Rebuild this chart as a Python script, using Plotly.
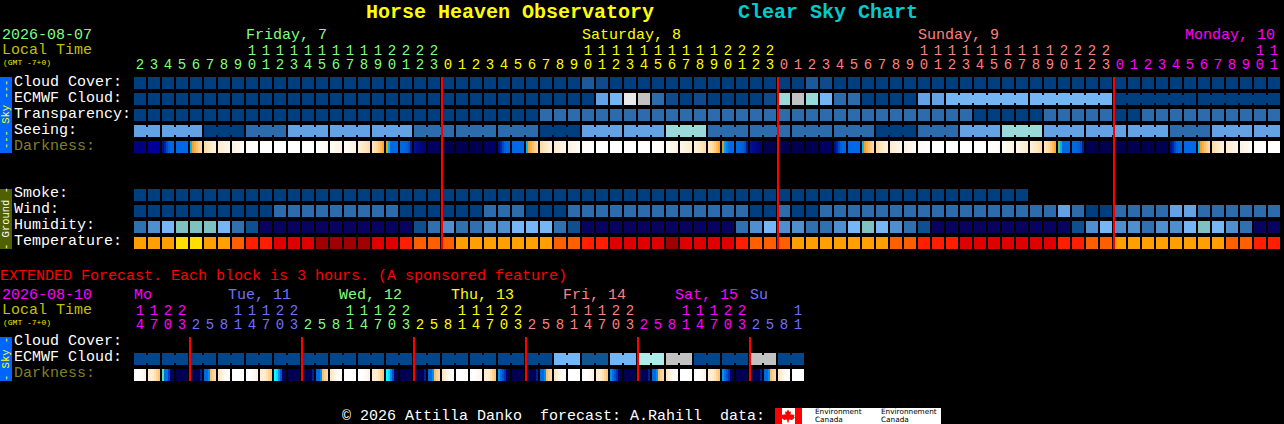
import plotly.graph_objects as go

# ---------- data ----------
W, H = 1284, 424

cloud_cover = ("aaaaaaaaaa aaaaaaaaaa aaaaaaaaaa aabcaaaaaa aaaaaaaabc "
               "aaaaaaaaaa aaaaaaaaaa aaaaaaaaaa aa").replace(" ", "")
ecmwf_cloud = ("aaaaaaaaaa aaaaaaaaaa aaaaaaaaaa aaaLdwgmca caaaactgtd "
               "mmaaaaLLdd dddddddddd aaaaaaaaaa aa").replace(" ", "")
transparency = ("aaaaaaaaaa aaaaaaaaaa aaaaaaaaam mmmmmmmmmm mmmmmmmmmm "
                "mmmmmmmmmm aaaaammmmm aammmmmmmm mm").replace(" ", "")
seeing = ("LLLLLaaamm mLLLLLLLLL mmmmmmmmma aaLLLLLLtt tmmmmmmmmm "
          "mmmaaammmL LLtttLLLLL LLLLmmmLLL LL").replace(" ", "")
smoke = ("aaaaaaaaaa aaaaaaaaaa aaaaaaaaaa aaaaaaaaaa aaaaaaaaaa "
         "aaaaaaaaaa aaaa").replace(" ", "")
wind = ("aaaaaaaaaa mmmmmmmmma aaaaammmaa ammmmmmmmm mmmmaamaam "
        "mmmmmmmmmm mmmmmmLmaa mmmmLLmmmm mm").replace(" ", "")
humidity = ("MHDTTTDMBN NNNNNNNNNN BMHMMHHDDD MBNNNNNNNN NNNMHDHHMM "
            "HDTDHMBNNN NNNNNNNBHD HHMHHDTDHM NN").replace(" ", "")
temperature = ("OOOYYOOFRR EEEKKKKEER FFFOOOOOOO FFRREEEEKE EEERFFFOOO "
               "OOOOFFRRRE EEEEEERRFF OOOOOOOOFF RR").replace(" ", "")

ext_ecmwf = ("aaaaaaaaaa aaaaaaaaaa aaaaaaaaaa ddccddiigg "
             "aaaagg aa").replace(" ", "")

darkness = ["n8", "n9", "up", "bl", "dawn", "m1", "m2", "m3", "m4", "W",
            "W", "W", "W", "e4", "e3", "e3", "e1", "dusk", "tw", "fall",
            "nf", "n6", "n", "n", "n", "n6", "up", "bl", "dawn", "m1",
            "m2", "m3", "m4", "W", "W", "W", "W", "e4", "e3", "e2",
            "e1", "dusk", "tw2", "fall", "nf", "n", "n", "n", "n", "n6",
            "up", "bl", "dawn", "m1", "m2", "m3", "m4", "W", "W", "W",
            "W", "e4", "e3", "e2", "e1", "dusk", "tw3", "fall", "n", "n",
            "n", "n", "n", "n", "up", "bl", "dawn", "m1", "m2", "m3",
            "m4", "W"]
ext_darkness = ["x0", "x1", "xd1", "xn", "xu", "xdw", "x6", "W",
                "x0", "x1", "xd2", "xn", "xu", "xdw", "x6", "W",
                "x0", "x1", "xd2", "xn", "xu", "xdw", "x6", "W",
                "x0", "x1", "xd3", "xn", "xu", "xdw", "x6", "W",
                "x0", "x1", "xd3", "xn", "xu", "xdw", "x6", "W",
                "x0", "x1", "xd3", "xn", "xu", "xdw", "x6", "W"]

hours = [2, 3, 4, 5, 6, 7, 8, 9, 10, 11, 12, 13, 14, 15, 16, 17, 18, 19, 20, 21, 22, 23,
         0, 1, 2, 3, 4, 5, 6, 7, 8, 9, 10, 11, 12, 13, 14, 15, 16, 17, 18, 19, 20, 21, 22, 23,
         0, 1, 2, 3, 4, 5, 6, 7, 8, 9, 10, 11, 12, 13, 14, 15, 16, 17, 18, 19, 20, 21, 22, 23,
         0, 1, 2, 3, 4, 5, 6, 7, 8, 9, 10, 11]
hour_day = ["F"] * 22 + ["S"] * 24 + ["U"] * 24 + ["M"] * 12
ext_hours = [14, 17, 20, 23,
             2, 5, 8, 11, 14, 17, 20, 23,
             2, 5, 8, 11, 14, 17, 20, 23,
             2, 5, 8, 11, 14, 17, 20, 23,
             2, 5, 8, 11, 14, 17, 20, 23,
             2, 5, 8, 11, 14, 17, 20, 23,
             2, 5, 8, 11]
ext_day = ["M"] * 4 + ["T"] * 8 + ["F"] * 8 + ["S"] * 8 + ["U"] * 8 + ["M"] * 8 + ["T"] * 4
midnights = [22, 46, 70]
ext_midnights = [4, 12, 20, 28, 36, 44]
seeing_groups = [0] + list(range(2, 82, 3))   # first column of each joined run
ecmwf_groups = [58, 64, 70, 76]
ext_groups = list(range(0, 48, 2))

# ---------- styles ----------
CELL = {"a": "#003f7f", "b": "#1a5a9c", "c": "#0f4b8c", "m": "#2c6cac", "L": "#63a3e5",
        "d": "#74b5f3", "w": "#e9e9e9", "g": "#c2c2c2", "t": "#99d9d9", "i": "#aeecec",
        "N": "#08035f", "B": "#0d4f8f", "M": "#3070b0", "H": "#4f8fd0", "D": "#76b6f6",
        "T": "#7fc0c0",
        "O": "#ff9f00", "Y": "#ffdf00", "F": "#ff5f00", "R": "#ff1f00", "E": "#df0000",
        "K": "#9f0000"}
EXT_CELL = dict(CELL, a="#05458a", c="#135590")

def rev(x):
    return list(reversed(x))

m1 = ["#ffdca8", "#ffe2b4", "#ffe6bf", "#ffeac8", "#ffedd0", "#ffefd8"]
m2 = ["#ffeccc", "#ffeed3", "#fff0d8", "#fff2de", "#fff4e3", "#fff5e8"]
m3 = ["#fff2e2", "#fff4e6", "#fff6ea", "#fff7ee", "#fff9f2", "#fffaf5"]
m4 = ["#fffaf5", "#fffbf7", "#fffcf9", "#fffdfb", "#fffefd", "#ffffff"]
DARK = {
    "W": ["#ffffff"], "bl": ["#0068e6"], "n": ["#000050"], "n6": ["#000060"],
    "n8": ["#000080"], "n9": ["#000099"],
    "m1": m1, "m2": m2, "m3": m3, "m4": m4,
    "e1": rev(m1), "e2": rev(m2), "e3": rev(m3), "e4": rev(m4),
    "dawn": ["#00b8f5", "#f8a020", "#fdb048", "#febe6e", "#ffcc8c", "#ffd8a0"],
    "dusk": ["#ffe6c0", "#ffe0b0", "#ffd89a", "#ffcc80", "#ffbc60", "#ffa830"],
    "tw": ["#e0a020", "#00b0f5", "#0068e0", "#0068e0", "#0068e0", "#0068e0"],
    "tw2": ["#c8a030", "#00a0f0", "#0080e8", "#0068e0", "#0068e0", "#0068e0"],
    "tw3": ["#70c860", "#00b0f5", "#0068e0", "#0068e0", "#0068e0", "#0068e0"],
    "fall": ["#0068e0", "#0068e0", "#0064dc", "#0060d8", "#0050c8", "#002090"],
    "up": ["#000f8f", "#0020a8", "#0048c8", "#0060d8", "#0068e0", "#0068e0"],
    "nf": ["#00109a", "#000c90", "#000a88", "#000880", "#000678", "#000470"],
    "x0": ["#ffffff", "#ffffff", "#fffefc", "#fffbf6", "#fff7ee", "#fff2e2"],
    "x1": ["#ffecd0", "#ffeed4", "#ffeccc", "#ffe2b4", "#ffd49a", "#ffc47a"],
    "xd1": ["#60d8a0", "#0070e0", "#0070e0", "#0040c0", "#000060", "#000060"],
    "xd2": ["#00ffff", "#00e0ff", "#0090e8", "#0050d0", "#000060", "#000060"],
    "xd3": ["#0090f0", "#0070e0", "#0050d0", "#0030b0", "#000070", "#000050"],
    "xn": ["#000050"],
    "xu": ["#000050", "#000050", "#000050", "#000050", "#000050", "#0020a0"],
    "xdw": ["#0068e0", "#0068e0", "#0090e8", "#ffc070", "#ffd090", "#ffd8a0"],
    "x6": ["#ffe8c8", "#ffeed4", "#fff4e4", "#fff9f0", "#fffdf9", "#ffffff"],
}
DAY = {"F": "#80ff80", "S": "#ffff00", "U": "#ff8080", "M": "#ff00ff"}
EXT_DAY = {"M": "#ff00ff", "T": "#7070ff", "F": "#80ff80", "S": "#ffff00", "U": "#ff8080"}

MONO = "Liberation Mono"
PITCH = 14.0
CW = 12 / PITCH

fig = go.Figure()

def add_bars(x, top, height, width, colors):
    fig.add_trace(go.Bar(x=x, y=[height] * len(x), base=[top] * len(x), width=width,
                         marker=dict(color=colors, line=dict(width=0)),
                         hoverinfo="skip", showlegend=False))

def add_row(values, top, pal=CELL, groups=None):
    xs = list(range(len(values)))
    add_bars(xs, top, 12, [CW] * len(xs), [pal[v] for v in values])
    if groups:
        cx, cc = [], []
        starts = sorted(groups)
        for a, b in zip(starts, starts[1:] + [len(values)]):
            for k in range(a, b - 1):
                cx.append(k + 0.5)
                cc.append(pal[values[k]])
        add_bars(cx, top + 2, 8, [2 / PITCH] * len(cx), cc)

def add_gradient_row(values, top):
    xs, ws, cs = [], [], []
    for k, name in enumerate(values):
        segs = DARK[name]
        n = len(segs)
        for j, c in enumerate(segs):
            w = CW / n
            xs.append(k - CW / 2 + w * (j + 0.5))
            ws.append(w)
            cs.append(c)
    add_bars(xs, top, 12, ws, cs)

def add_digits(hrs, days, pal, y_tens, y_units):
    xs = list(range(len(hrs)))
    fig.add_trace(go.Scatter(
        x=xs, y=[y_units] * len(xs), mode="text", text=[str(h % 10) for h in hrs],
        textposition="middle center", hoverinfo="skip", showlegend=False,
        textfont=dict(family=MONO, size=14, color=[pal[d] for d in days])))
    tx = [k for k, h in enumerate(hrs) if h >= 10]
    fig.add_trace(go.Scatter(
        x=tx, y=[y_tens] * len(tx), mode="text", text=[str(hrs[k] // 10) for k in tx],
        textposition="middle center", hoverinfo="skip", showlegend=False,
        textfont=dict(family=MONO, size=14, color=[pal[days[k]] for k in tx])))

def add_rules(cols, y0, y1):
    xs = [k - 6 / PITCH for k in cols]
    add_bars(xs, y0, y1 - y0, [2 / PITCH] * len(xs), ["#ff0000"] * len(xs))

# main grid
add_row(cloud_cover, 77)
add_row(ecmwf_cloud, 93, groups=None)
add_row(transparency, 109)
add_row(seeing, 125, groups=seeing_groups)
add_gradient_row(darkness, 141)
add_row(smoke, 189)
add_row(wind, 205)
add_row(humidity, 221)
add_row(temperature, 237)
# ECMWF joined runs
for a in ecmwf_groups:
    xs = [a + i + 0.5 for i in range(5)]
    add_bars(xs, 95, 8, [2 / PITCH] * 5, [CELL[ecmwf_cloud[a + i]] for i in range(5)])
add_rules(midnights, 77, 249)
add_digits(hours, hour_day, DAY, 51, 65)

# extended grid
add_row(ext_ecmwf, 353, pal=EXT_CELL)
xs = [a + 0.5 for a in ext_groups]
add_bars(xs, 355, 8, [2 / PITCH] * len(xs), [EXT_CELL[ext_ecmwf[a]] for a in ext_groups])
add_gradient_row(ext_darkness, 369)
add_rules(ext_midnights, 337, 381)
add_digits(ext_hours, ext_day, EXT_DAY, 311, 325)

# ---------- text ----------
def px(v):
    return v / W

def py(v):
    return 1 - v / H

anns = []
def label(x, y, text, color="#ffffff", size=15, family=MONO, angle=0, anchor="left", bold=False):
    if bold:
        text = "<b>" + text + "</b>"
    anns.append(dict(x=px(x), y=py(y), xref="paper", yref="paper", text=text, showarrow=False,
                     xanchor=anchor, yanchor="middle", textangle=angle, borderpad=0,
                     borderwidth=0, font=dict(family=family, size=size, color=color)))

label(366, 12.5, "Horse Heaven Observatory", "#ffff00", 20, bold=True)
label(738, 12.5, "Clear Sky Chart", "#00cccc", 20, bold=True)
label(2, 35.5, "2026-08-07", "#80ff80")
label(2, 50, "Local Time", "#c0c000")
label(3, 62, "(GMT -7+0)", "#e8e800", 8)
label(246, 35.5, "Friday, 7", "#80ff80")
label(582, 35.5, "Saturday, 8", "#ffff00")
label(918, 35.5, "Sunday, 9", "#ff8080")
label(1185, 35.5, "Monday, 10", "#ff00ff")

row_labels = ["Cloud Cover:", "ECMWF Cloud:", "Transparency:", "Seeing:"]
for i, t in enumerate(row_labels):
    label(14, 82 + 16 * i, t)
label(14, 146, "Darkness:", "#808020")
for i, t in enumerate(["Smoke:", "Wind:", "Humidity:", "Temperature:"]):
    label(14, 193.5 + 16 * i, t)

label(0, 276, "EXTENDED Forecast. Each block is 3 hours. (A sponsored feature)", "#ff0000")
label(2, 295, "2026-08-10", "#ff00ff")
label(2, 310, "Local Time", "#c0c000")
label(3, 322, "(GMT -7+0)", "#e8e800", 8)
for x, t, c in [(134, "Mo", "#ff00ff"), (228, "Tue, 11", "#7070ff"), (339, "Wed, 12", "#80ff80"),
                (451, "Thu, 13", "#ffff00"), (563, "Fri, 14", "#ff8080"),
                (675, "Sat, 15", "#ff00ff"), (750, "Su", "#7070ff")]:
    label(x, 295, t, c)
label(14, 341.5, "Cloud Cover:")
label(14, 357.5, "ECMWF Cloud:")
label(14, 373.5, "Darkness:", "#808020")

label(342, 416, "\u00a9 2026 Attilla Danko  forecast: A.Rahill  data:".replace("  ", "\u00a0\u00a0"))

label(6, 115, "--- Sky ---", "#ffff00", 10.5, angle=-90, anchor="center")
label(6, 219, "- Ground -", "#ffffff", 10.5, angle=-90, anchor="center")
label(6, 359, "- Sky -", "#ffff00", 10.5, angle=-90, anchor="center")

label(815, 411.5, "Environment", "#000000", 7.3, "DejaVu Sans")
label(815, 419.8, "Canada", "#000000", 7.3, "DejaVu Sans")
label(881, 411.5, "Environnement", "#000000", 7.3, "DejaVu Sans")
label(881, 419.8, "Canada", "#000000", 7.3, "DejaVu Sans")

# ---------- decoration ----------
def rect(x0, y0, x1, y1, color):
    return dict(type="rect", xref="paper", yref="paper", x0=px(x0), x1=px(x1), y0=py(y1), y1=py(y0),
                fillcolor=color, line=dict(width=0), layer="below")

leaf_shape = [(788, 409.5), (789.5, 412), (791, 411.5), (790.5, 415), (792, 414), (793, 415),
              (794.5, 414.5), (794, 417), (795, 417.5), (792, 420), (789, 419.5), (788.5, 422.5),
              (787.5, 422.5), (787, 419.5), (784, 420), (781, 417.5), (782, 417), (781.5, 414.5),
              (783, 415), (784, 414), (785.5, 415), (785, 411.5), (786.5, 412)]
leaf = "M" + " L".join(f"{px(a):.5f},{py(b):.5f}" for a, b in leaf_shape) + " Z"

shapes = [
    rect(0, 77, 12, 153, "#0064ff"),
    rect(0, 189, 12, 249, "#506000"),
    rect(0, 337, 12, 381, "#0064ff"),
    rect(775, 408, 941, 424, "#ffffff"),
    rect(775, 408, 782, 424, "#ff0000"),
    rect(795, 408, 802, 424, "#ff0000"),
    dict(type="path", xref="paper", yref="paper", path=leaf, fillcolor="#ff0000",
         line=dict(width=0), layer="below"),
]

fig.update_layout(
    width=W, height=H, margin=dict(l=0, r=0, t=0, b=0), autosize=False,
    paper_bgcolor="#000000", plot_bgcolor="#000000", barmode="overlay", bargap=0,
    showlegend=False, annotations=anns, shapes=shapes, hovermode=False,
    xaxis=dict(range=[-140 / PITCH, (W - 140) / PITCH], visible=False, fixedrange=True),
    yaxis=dict(range=[H, 0], visible=False, fixedrange=True),
)

fig.write_html("out.html", config=dict(displayModeBar=False), post_script=(
    "document.body.style.margin='0';document.body.style.background='#000';"
    "document.documentElement.style.overflow='hidden';"))
